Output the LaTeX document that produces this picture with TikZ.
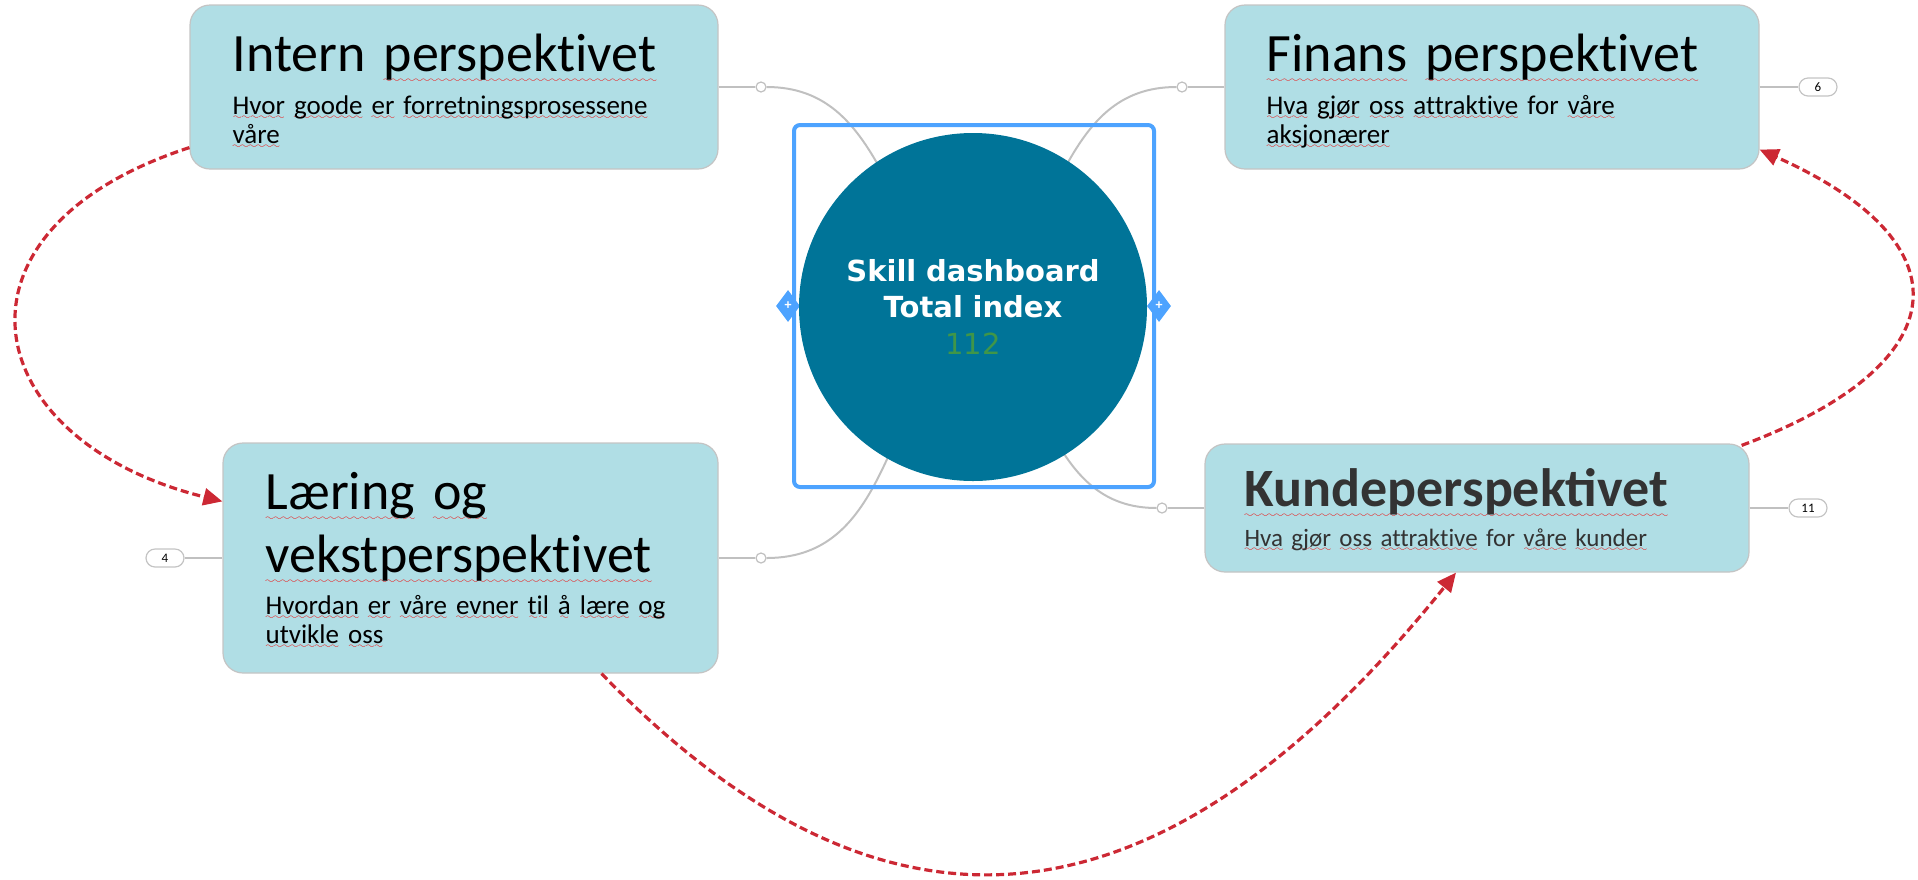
\documentclass[tikz,border=0pt]{standalone}
\usepackage{fontspec}
\setmainfont{Carlito}[Ligatures=NoCommon]
\newfontfamily\hubfont{DejaVu Sans}
\usepackage{xcolor}
\usepackage{tikz}
\usetikzlibrary{arrows.meta,shapes.geometric}

\definecolor{boxfill}{RGB}{176,222,229}
\definecolor{boxline}{RGB}{196,196,196}
\definecolor{linkgrey}{RGB}{192,192,192}
\definecolor{relred}{RGB}{204,40,52}
\definecolor{hubblue}{RGB}{0,116,152}
\definecolor{frameblue}{RGB}{77,163,255}
\definecolor{scoregreen}{RGB}{64,150,72}
\definecolor{darktext}{RGB}{51,51,51}
\definecolor{spellred}{RGB}{240,10,10}

% wavy spell-check underline
\font\wavefont=lasy6 scaled 1500
\newsavebox\splbox
\newcommand{\spl}[1]{\leavevmode\sbox\splbox{#1}\rlap{\lower.2em\hbox to\wd\splbox{\color{spellred}\wavefont\xleaders\hbox{\char58}\hfill}}\usebox\splbox}

\begin{document}
\begin{tikzpicture}[x=1pt, y=1pt,
    persp/.style={draw=boxline, fill=boxfill, line width=1.2pt, rounded corners=20pt},
    headline/.style={anchor=base west, inner sep=0pt, align=left, font=\fontsize{54}{63}\selectfont},
    subline/.style={anchor=base west, inner sep=0pt, align=left, font=\fontsize{27}{29}\selectfont},
    joint/.style={circle, draw=linkgrey, fill=white, line width=1.2pt, minimum size=10pt, inner sep=0pt},
    link/.style={draw=linkgrey, line width=2pt},
    badge/.style={draw=boxline, fill=white, line width=1.2pt, rounded corners=9pt, minimum width=38pt, minimum height=18pt, inner sep=0pt, font=\fontsize{13}{13}\selectfont},
    relation/.style={draw=relred, line width=3.2pt, dash pattern=on 8pt off 4pt, -{Triangle[length=19pt,width=17pt]}},
    grip/.style={diamond, fill=frameblue, minimum width=24pt, minimum height=32pt, inner sep=0pt, text=white, font=\fontsize{14}{14}\selectfont\bfseries}]
    \useasboundingbox (0,0) rectangle (1918,-879);

    % Intern perspektivet
    \node[persp, minimum width=528pt, minimum height=164pt] (intern) at (454,-87) {};
    \node[headline, text width=470pt] (intern head) at ([shift={(43,-67)}]intern.north west) {Intern \spl{perspektivet}};
    \node[subline, text width=470pt] (intern sub) at ([shift={(43,-110)}]intern.north west) {\spl{Hvor} \spl{goode} \spl{er} \spl{forretningsprosessene}\\\spl{våre}};

    % Finans perspektivet
    \node[persp, minimum width=534pt, minimum height=164pt] (finans) at (1492,-87) {};
    \node[headline, text width=470pt] (finans head) at ([shift={(42,-67)}]finans.north west) {\spl{Finans} \spl{perspektivet}};
    \node[subline, text width=470pt] (finans sub) at ([shift={(42,-110)}]finans.north west) {\spl{Hva} \spl{gjør} \spl{oss} \spl{attraktive} for \spl{våre}\\\spl{aksjonærer}};

    % Laering og vekstperspektivet
    \node[persp, minimum width=495pt, minimum height=230pt] (laering) at (470.5,-558) {};
    \node[headline, text width=440pt] (laering head) at ([shift={(43,-67)}]laering.north west) {\spl{Læring} \spl{og}\\\spl{vekstperspektivet}};
    \node[subline, text width=440pt] (laering sub) at ([shift={(43,-172)}]laering.north west) {\spl{Hvordan} \spl{er} \spl{våre} \spl{evner} \spl{til} \spl{å} \spl{lære} \spl{og}\\\spl{utvikle} \spl{oss}};

    % Kundeperspektivet
    \node[persp, minimum width=544pt, minimum height=128pt] (kunde) at (1477,-508) {};
    \node[headline, text width=480pt, text=darktext] (kunde head) at ([shift={(40,-63)}]kunde.north west) {\addfontfeatures{Ligatures=Common}\bfseries\spl{Kundeperspektivet}};
    \node[subline, text width=480pt, text=darktext, font=\fontsize{25}{29}\selectfont] (kunde sub) at ([shift={(40,-103)}]kunde.north west) {\spl{Hva} \spl{gjør} \spl{oss} \spl{attraktive} for \spl{våre} \spl{kunder}};

    % joints and counters
    \node[joint] (intern joint) at (761,-87) {};
    \node[joint] (finans joint) at (1182,-87) {};
    \node[joint] (laering joint) at (761,-558) {};
    \node[joint] (kunde joint) at (1162,-508) {};
    \node[badge] (finans count) at (1818,-87) {6};
    \node[badge] (laering count) at (165,-558) {4};
    \node[badge] (kunde count) at (1808,-508) {11};

    \draw[link] (intern) -- (intern joint);
    \draw[link] (finans) -- (finans joint);
    \draw[link] (laering) -- (laering joint);
    \draw[link] (kunde) -- (kunde joint);
    \draw[link] (finans) -- (finans count);
    \draw[link] (laering) -- (laering count);
    \draw[link] (kunde) -- (kunde count);

    % links to the hub
    \coordinate (hub centre) at (973,-307);
    \draw[link] (intern joint) to[out=0, in=140] (hub centre);
    \draw[link] (finans joint) to[out=180, in=40] (hub centre);
    \draw[link] (laering joint) to[out=0, in=-135] (hub centre);
    \draw[link] (kunde joint) to[out=180, in=-45] (hub centre);

    % Hub with selection frame
    \node[draw=frameblue, line width=4pt, rounded corners=6pt, minimum width=360pt, minimum height=362pt] (hub frame) at (974,-306) {};
    \node[grip] (left grip) at (788,-306) {+};
    \node[grip] (right grip) at (1159,-306) {+};
    \node[circle, fill=hubblue, minimum size=348pt, inner sep=0pt] (hub) at (hub centre) {};
    \node[anchor=base, text width=320pt, align=center, inner sep=0pt, text=white, font=\hubfont\bfseries\fontsize{29}{36.5}\selectfont] (hub label) at (973,-281) {Skill dashboard\\Total index\\{\mdseries\color{scoregreen}112}};

    % Relations
    \draw[relation] ([yshift=22pt]intern.south west) .. controls (-65,-230) and (-25,-440) .. ([yshift=-59pt]laering.north west);
    \draw[relation] ([xshift=131pt]laering.south) .. controls (880,-961) and (1154,-948) .. ([xshift=-21pt]kunde.south);
    \draw[relation] ([shift={(-8pt,-2pt)}]kunde.north east) .. controls (1959,-364) and (1969,-243) .. ([yshift=20pt]finans.south east);
\end{tikzpicture}
\end{document}
